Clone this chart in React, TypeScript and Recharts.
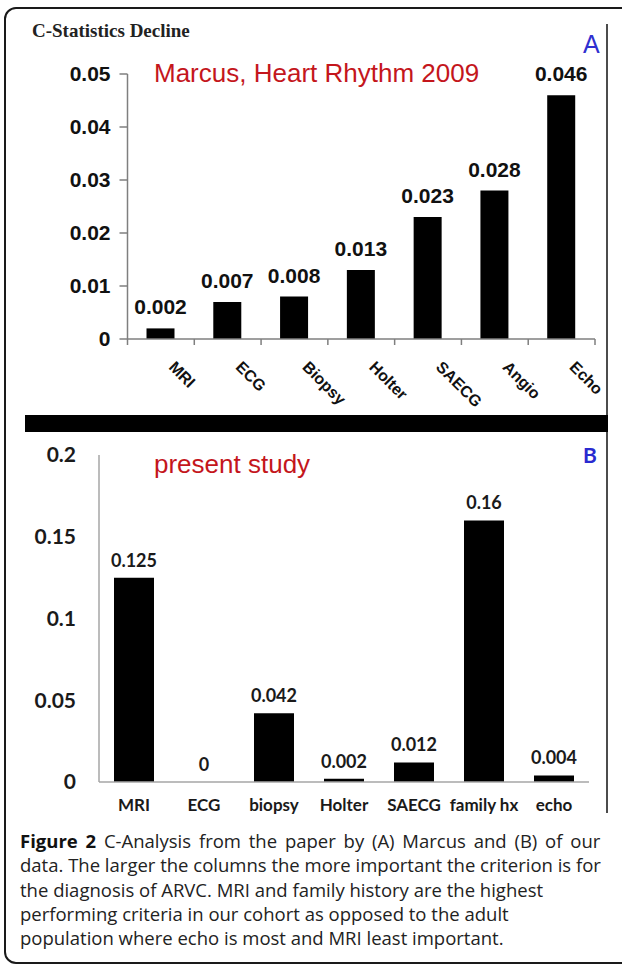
import React from 'react';
import { BarChart, ComposedChart, Bar, Line, XAxis, YAxis, LabelList } from 'recharts';

// Panel A: Marcus, Heart Rhythm 2009
const marcusCategories = ['MRI', 'ECG', 'Biopsy', 'Holter', 'SAECG', 'Angio', 'Echo'];
const marcusValues = [0.002, 0.007, 0.008, 0.013, 0.023, 0.028, 0.046];
const marcusTicks = [0, 0.01, 0.02, 0.03, 0.04, 0.05];

// Panel B: present study
const presentCategories = ['MRI', 'ECG', 'biopsy', 'Holter', 'SAECG', 'family hx', 'echo'];
const presentValues = [0.125, 0, 0.042, 0.002, 0.012, 0.16, 0.004];
const presentTicks = [0, 0.05, 0.1, 0.15, 0.2];

const captionLines = [
  'C-Analysis from the paper by (A) Marcus and (B) of our',
  'data. The larger the columns the more important the criterion is for',
  'the diagnosis of ARVC. MRI and family history are the highest',
  'performing criteria in our cohort as opposed to the adult',
  'population where echo is most and MRI least important.',
];

const marcusData = marcusCategories.map((name, i) => ({ name, value: marcusValues[i] }));
const presentData = presentCategories.map((name, i) => ({ name, value: presentValues[i] }));

const ARIAL = '"Liberation Sans", Arial, sans-serif';
const CALIBRI = 'Lato, "Open Sans", sans-serif';
const AXIS_A = '#7f7f7f';
const AXIS_B = '#a6a6a6';

const MarcusTick = (props: any) => {
  const { x, y, payload, index, width, visibleTicksCount } = props;
  const half =
    payload && payload.offset ? payload.offset : width && visibleTicksCount ? width / visibleTicksCount / 2 : 33;
  return (
    <g>
      {index === 0 && <line x1={x - half} x2={x - half} y1={y} y2={y + 6} stroke={AXIS_A} strokeWidth={1.5} />}
      <line x1={x + half} x2={x + half} y1={y} y2={y + 6} stroke={AXIS_A} strokeWidth={1.5} />
      <text
        x={x + 7}
        y={y + 29}
        transform={`rotate(45, ${x + 7}, ${y + 29})`}
        textAnchor="start"
        fontFamily={ARIAL}
        fontWeight="bold"
        fontSize={16}
        fill="#111"
      >
        {payload.value}
      </text>
    </g>
  );
};

export default function App() {
  return (
    <div
      style={{
        position: 'absolute',
        left: 0,
        top: 0,
        width: 622,
        height: 964,
        overflow: 'hidden',
        background: '#fff',
      }}
    >
      <div
        style={{
          position: 'absolute',
          left: 4,
          top: 7,
          width: 650,
          height: 957,
          border: '2px solid #1a1a1a',
          borderRadius: 12,
          boxSizing: 'border-box',
        }}
      />

      {/* Panel A */}
      <div style={{ position: 'absolute', left: 0, top: 0 }}>
        <BarChart
          width={622}
          height={415}
          data={marcusData}
          margin={{ top: 74, right: 27, bottom: 16, left: 0 }}
        >
          <XAxis
            dataKey="name"
            interval={0}
            height={60}
            tickLine={false}
            tickSize={0}
            tickMargin={0}
            axisLine={{ stroke: AXIS_A, strokeWidth: 1.5 }}
            tick={<MarcusTick />}
          />
          <YAxis
            width={127.5}
            domain={[0, 0.05]}
            ticks={marcusTicks}
            interval={0}
            tickSize={8}
            tickMargin={9}
            axisLine={{ stroke: AXIS_A, strokeWidth: 1.5 }}
            tickLine={{ stroke: AXIS_A, strokeWidth: 1.5 }}
            tick={{ fontFamily: ARIAL, fontWeight: 'bold', fontSize: 21, fill: '#111' }}
          />
          <Bar dataKey="value" fill="#000" barSize={28} isAnimationActive={false}>
            <LabelList
              dataKey="value"
              position="top"
              offset={14}
              style={{ fontFamily: ARIAL, fontWeight: 'bold', fontSize: 21, fill: '#111' }}
            />
          </Bar>
        </BarChart>
      </div>

      {/* Panel B */}
      <div style={{ position: 'absolute', left: 0, top: 432 }}>
        <ComposedChart
          width={622}
          height={390}
          data={presentData}
          margin={{ top: 23, right: 33, bottom: 10, left: 0 }}
        >
          <XAxis
            dataKey="name"
            interval={0}
            height={30}
            tickLine={false}
            tickSize={0}
            tickMargin={17}
            axisLine={{ stroke: AXIS_B, strokeWidth: 1.5 }}
            tick={{ fontFamily: CALIBRI, fontWeight: 'bold', fontSize: 17, fill: '#1a1a1a' }}
          />
          <YAxis
            width={99}
            domain={[0, 0.2]}
            ticks={presentTicks}
            interval={0}
            tickLine={false}
            tickSize={0}
            tickMargin={23}
            axisLine={{ stroke: AXIS_B, strokeWidth: 1.5 }}
            tick={{ fontFamily: CALIBRI, fontWeight: 'bold', fontSize: 21, fill: '#1a1a1a' }}
          />
          <Bar dataKey="value" fill="#000" barSize={40} isAnimationActive={false} />
          <Line
            dataKey="value"
            stroke="none"
            dot={false}
            activeDot={false}
            legendType="none"
            isAnimationActive={false}
          >
            <LabelList
              dataKey="value"
              position="top"
              offset={11}
              style={{ fontFamily: CALIBRI, fontWeight: 'bold', fontSize: 18, fill: '#1a1a1a' }}
            />
          </Line>
        </ComposedChart>
      </div>

      {/* Overlay texts and frame pieces */}
      <svg
        width={622}
        height={964}
        style={{ position: 'absolute', left: 0, top: 0, pointerEvents: 'none' }}
      >
        <line x1={607} x2={607} y1={24} y2={813} stroke="#111" strokeWidth={1.5} />
        <rect x={25} y={415} width={583} height={17} fill="#000" />
        <text x={32} y={37} fontFamily='"Liberation Serif", "Times New Roman", serif' fontWeight="bold" fontSize={19} fill="#222">
          C-Statistics Decline
        </text>
        <text x={154} y={82} fontFamily={ARIAL} fontSize={26} fill="#c4161c">
          Marcus, Heart Rhythm 2009
        </text>
        <text x={583} y={53} fontFamily={ARIAL} fontSize={25} fill="#3030d0">
          A
        </text>
        <text x={154} y={473} fontFamily={ARIAL} fontSize={26} fill="#c4161c">
          present study
        </text>
        <text x={583} y={463} fontFamily={CALIBRI} fontWeight="bold" fontSize={21} fill="#2a2ad0">
          B
        </text>
        {captionLines.map((line, i) => (
          <text
            key={i}
            x={20}
            y={848 + i * 24.3}
            fontFamily='"Open Sans", sans-serif'
            fontSize={18.5}
            fill="#222"
            wordSpacing={i === 0 ? 3 : 0}
          >
            {i === 0 && (
              <tspan fontWeight="bold" fill="#111">
                Figure 2{' '}
              </tspan>
            )}
            {line}
          </text>
        ))}
      </svg>
    </div>
  );
}
